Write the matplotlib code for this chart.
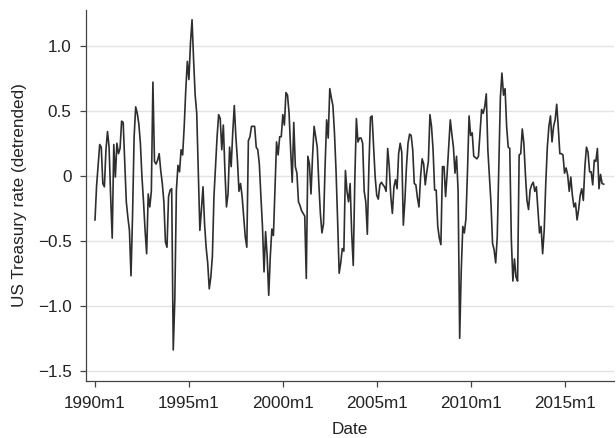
import matplotlib
matplotlib.use("Agg")
import matplotlib.pyplot as plt
import numpy as np

plt.rcParams['font.family'] = ['Liberation Sans', 'DejaVu Sans']

start_year = 1990
rate = [
    -0.34, -0.08, 0.08, 0.24, 0.22, -0.06, -0.085, 0.2, 0.34, 0.22,
    -0.16, -0.48, 0.24, -0.01, 0.25, 0.17, 0.21, 0.42, 0.41, 0.1,
    -0.2, -0.32, -0.42, -0.77, -0.3, 0.3, 0.53, 0.48, 0.4, 0.25,
    -0.01, -0.2, -0.42, -0.6, -0.14, -0.24, -0.12, 0.72, 0.11, 0.09,
    0.12, 0.17, 0.04, -0.06, -0.2, -0.51, -0.55, -0.16, -0.11, -0.1,
    -1.34, -0.95, -0.11, 0.08, 0.03, 0.2, 0.16, 0.38, 0.66, 0.88,
    0.74, 1.02, 1.2, 0.89, 0.62, 0.48, 0.04, -0.42, -0.26, -0.085,
    -0.37, -0.55, -0.67, -0.87, -0.78, -0.62, -0.16, 0.07, 0.3, 0.47,
    0.44, 0.2, 0.39, 0.04, -0.24, -0.14, 0.22, 0.07, 0.33, 0.54,
    0.3, 0.12, -0.12, -0.06, -0.16, -0.32, -0.47, -0.55, 0.27, 0.3,
    0.38, 0.38, 0.38, 0.22, 0.2, 0.09, -0.16, -0.39, -0.74, -0.43,
    -0.62, -0.92, -0.62, -0.41, -0.46, -0.1, 0.26, 0.16, 0.3, 0.3,
    0.47, 0.39, 0.64, 0.62, 0.48, 0.2, -0.05, 0.41, 0.07, 0.02,
    -0.2, -0.23, -0.27, -0.29, -0.31, -0.79, 0.15, 0.09, -0.14, 0.15,
    0.38, 0.3, 0.22, -0.06, -0.29, -0.44, -0.37, 0.07, 0.43, 0.29,
    0.67, 0.6, 0.54, 0.33, 0.04, -0.34, -0.75, -0.67, -0.56, -0.58,
    0.04, -0.12, -0.2, -0.06, -0.44, -0.69, -0.03, 0.44, 0.26, 0.29,
    0.29, 0.25, -0.12, -0.2, -0.45, 0.07, 0.45, 0.46, 0.22, -0.01,
    -0.15, -0.18, -0.07, -0.05, -0.07, -0.085, -0.12, 0.21, 0.07, -0.16,
    -0.29, -0.085, -0.03, -0.1, 0.17, 0.25, 0.18, -0.38, -0.19, 0.07,
    0.25, 0.32, 0.31, 0.2, -0.06, -0.07, -0.17, -0.24, -0.01, 0.13,
    0.09, -0.07, 0.03, 0.11, 0.47, 0.38, 0.2, -0.11, -0.11, -0.39,
    -0.48, -0.53, 0.07, 0.07, -0.16, 0.02, 0.22, 0.43, 0.32, 0.22,
    0.02, 0.15, -0.12, -1.25, -0.73, -0.39, -0.44, -0.33, 0.04, 0.46,
    0.31, 0.33, 0.15, 0.14, 0.13, 0.15, 0.33, 0.51, 0.48, 0.53,
    0.63, 0.2, -0.01, -0.21, -0.52, -0.57, -0.67, -0.47, 0.07, 0.6,
    0.79, 0.62, 0.67, 0.38, 0.22, 0.21, -0.49, -0.81, -0.64, -0.78,
    -0.81, 0.16, 0.17, 0.36, 0.25, 0.01, -0.19, -0.26, -0.11, -0.07,
    -0.05, -0.12, -0.085, -0.26, -0.44, -0.39, -0.6, -0.42, -0.06, 0.22,
    0.38, 0.46, 0.26, 0.38, 0.43, 0.55, 0.37, 0.17, 0.17, 0.16,
    0.02, 0.06, 0.005, -0.12, -0.01, -0.15, -0.24, -0.21, -0.34, -0.26,
    -0.15, -0.1, -0.19, 0.07, 0.22, 0.18, 0.03, 0.03, -0.07, 0.12,
    0.11, 0.21, -0.1, 0.01, -0.06, -0.065,
]
tick_years = [1990, 1995, 2000, 2005, 2010, 2015]
tick_labels = ["1990m1", "1995m1", "2000m1", "2005m1", "2010m1", "2015m1"]
ytick_vals = [-1.5, -1.0, -0.5, 0.0, 0.5, 1.0]
ytick_labels = ["\u22121.5", "\u22121.0", "\u22120.5", "0", "0.5", "1.0"]

months = np.arange(len(rate))
tick_pos = [(y - start_year) * 12 for y in tick_years]

fig = plt.figure(figsize=(6.16, 4.38), dpi=100)
ax = fig.add_axes([86/616, (438-381)/438, (614-86)/616, (381-10)/438])

ax.plot(months, rate, color="#2e2e2e", lw=1.2)

ax.set_xlim(-5.75, 331.6)
ax.set_ylim(-1.579, 1.275)
ax.set_xticks(tick_pos)
ax.set_xticklabels(tick_labels)
ax.set_yticks(ytick_vals)
ax.set_yticklabels(ytick_labels)

ax.yaxis.grid(True, color="#e3e3e3", lw=1.0)
ax.set_axisbelow(True)
for s in ["top", "right"]:
    ax.spines[s].set_visible(False)
for s in ["left", "bottom"]:
    ax.spines[s].set_color("#444444")
    ax.spines[s].set_linewidth(0.9)
ax.tick_params(axis="both", colors="#444444", length=4.5, width=0.9,
               labelsize=12.3, labelcolor="#222222", pad=6)
ax.set_xlabel("Date", fontsize=12.3, color="#222222", labelpad=8)
ax.set_ylabel("US Treasury rate (detrended)", fontsize=12.3, color="#222222", labelpad=8)

fig.savefig("out.png", dpi=100)
